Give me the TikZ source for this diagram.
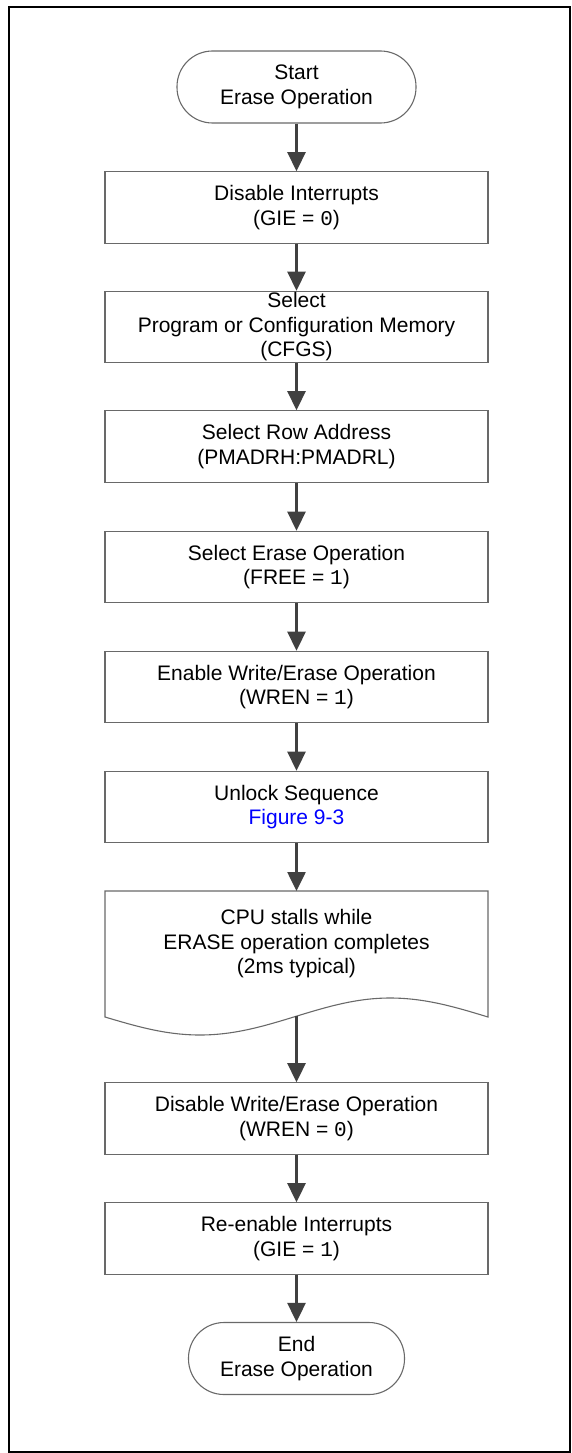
\documentclass[tikz,border=0pt]{standalone}
\usepackage{fontspec}
\setmainfont{Liberation Sans}
\newfontfamily\monodig{Liberation Mono}
\usetikzlibrary{arrows.meta}
\definecolor{boxline}{RGB}{105,105,105}
\definecolor{arrowc}{RGB}{64,64,64}
\definecolor{linkblue}{RGB}{0,0,255}
\begin{document}
\begin{tikzpicture}[x=1pt,y=-1pt,
  every node/.style={font=\fontsize{21}{24.5}\selectfont, align=center, inner sep=0pt},
  procbox/.style={draw=boxline, line width=1.1pt, minimum width=383pt, minimum height=71.5pt},
  termbox/.style={draw=boxline, line width=1.1pt, rounded corners=35.5pt, minimum height=72pt},
  flow/.style={draw=arrowc, line width=2.6pt, -{Triangle[length=19pt,width=18pt]}}]
\useasboundingbox (0,0) rectangle (571,1453);
\draw[line width=2pt] (9,6.7) rectangle (569.5,1451.5);

\node[termbox, minimum width=239pt] (start) at (296.5,87) {Start\\Erase Operation};
\node[procbox] (b1) at (296.5,207.5) {Disable Interrupts\\(GIE = {\monodig 0})};
\node[procbox] (b2) at (296.5,327) {Select\\Program or Configuration Memory\\(CFGS)};
\node[procbox] (b3) at (296.5,446.5) {Select Row Address\\(PMADRH:PMADRL)};
\node[procbox] (b4) at (296.5,567) {Select Erase Operation\\(FREE = {\monodig 1})};
\node[procbox] (b5) at (296.5,687) {Enable Write/Erase Operation\\(WREN = {\monodig 1})};
\node[procbox] (b6) at (296.5,807) {Unlock Sequence\\\textcolor{linkblue}{Figure 9-3}};

\draw[draw=boxline, line width=1.1pt] (105,891) -- (488,891) -- (488,1017)
  sin (390,998) cos (297,1016) sin (200,1035) cos (105,1017) -- cycle;
\node (doc) at (296.5,944) {CPU stalls while\\ERASE operation completes\\(2ms typical)};
\coordinate (doct) at (296.5,891);
\coordinate (docb) at (296.5,1016);

\node[procbox] (b8) at (296.5,1118.5) {Disable Write/Erase Operation\\(WREN = {\monodig 0})};
\node[procbox] (b9) at (296.5,1238.5) {Re-enable Interrupts\\(GIE = {\monodig 1})};
\node[termbox, minimum width=216pt] (end) at (296.5,1358.5) {End\\Erase Operation};

\draw[flow] (start.south) -- (b1.north);
\draw[flow] (b1.south) -- (b2.north);
\draw[flow] (b2.south) -- (b3.north);
\draw[flow] (b3.south) -- (b4.north);
\draw[flow] (b4.south) -- (b5.north);
\draw[flow] (b5.south) -- (b6.north);
\draw[flow] (b6.south) -- (doct);
\draw[flow] (docb) -- (b8.north);
\draw[flow] (b8.south) -- (b9.north);
\draw[flow] (b9.south) -- (end.north);
\end{tikzpicture}
\end{document}
